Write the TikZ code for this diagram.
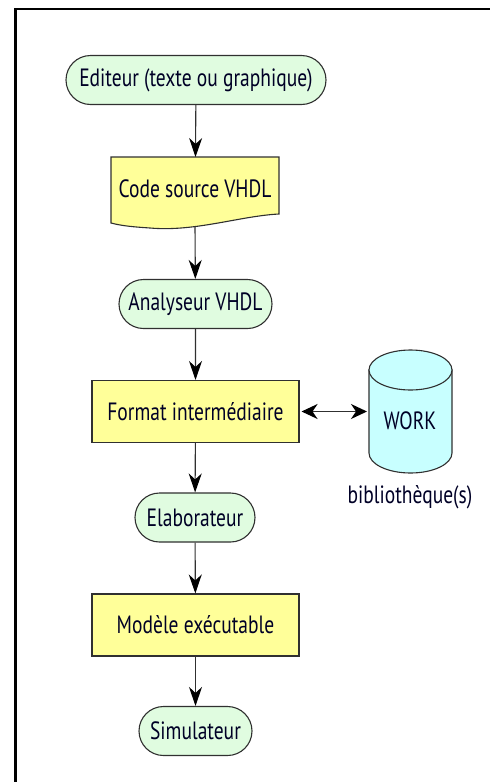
\documentclass[tikz,border=0pt]{standalone}
\usepackage{fontspec}
\setmainfont[FakeStretch=0.78]{PT Sans}
\usetikzlibrary{arrows.meta}
\usetikzlibrary{shapes.misc}

\definecolor{startgreen}{HTML}{E0FCE0}
\definecolor{boxyellow}{HTML}{FFFF99}
\definecolor{workcyan}{HTML}{C8FFFF}
\definecolor{inkdark}{HTML}{303030}

\begin{document}
\begin{tikzpicture}[x=1pt,y=-1pt]
    \tikzset{line/.style={line width=1.1pt,draw=inkdark}};
    \tikzset{flow/.style={line,-{Stealth[length=19pt,width=13pt,inset=6pt,black]}}};
    \tikzset{both/.style={line,line width=1.4pt,{Stealth[length=16pt,width=15pt,inset=5pt,black]}-{Stealth[length=16pt,width=15pt,inset=5pt,black]}}};
    \tikzset{lbl/.style={font=\fontsize{25}{28}\selectfont,text=black!85!blue,inner sep=0pt}};
    \tikzset{tool/.style={line,lbl,rounded rectangle,fill=startgreen,minimum height=49pt}};
    \tikzset{data/.style={line,lbl,rectangle,fill=boxyellow,minimum height=62pt,minimum width=207pt}};

    \useasboundingbox (0,0) rectangle (490,782);
    \draw[line width=2.6pt,draw=black] (15.5,782) -- (15.5,9) -- (490,9);

    % the tools
    \node[tool,minimum width=260pt] (editeur) at (196,80) {Editeur (texte ou graphique)};
    \node[tool,minimum width=153pt] (analyseur) at (195.5,304) {Analyseur VHDL};
    \node[tool,minimum width=120pt] (elaborateur) at (195,517.5) {Elaborateur};
    \node[tool,minimum width=113pt] (simulateur) at (195.5,731) {Simulateur};

    % the files
    \draw[line,fill=boxyellow] (111,157) -- (279,157) -- (279,214)
        .. controls (240,216) and (195,232) .. (150,228)
        .. controls (135,227) and (122,226) .. (111,223) -- cycle;
    \node[lbl] (code) at (195,189) {Code source VHDL};
    \coordinate (codeN) at (195.5,157);
    \coordinate (codeS) at (195,226);

    \node[data] (format) at (195.5,411.5) {Format intermédiaire};
    \node[data] (modele) at (195.5,625) {Modèle exécutable};

    % the library
    \draw[line,fill=workcyan] (369,370) -- (369,453) arc[start angle=180,end angle=0,x radius=41.5,y radius=20]
        -- (452,370) -- cycle;
    \draw[line,fill=workcyan] (410.5,370) ellipse[x radius=41.5,y radius=20];
    \node[lbl] (work) at (410,421) {WORK};
    \node[lbl] (biblio) at (410,497) {bibliothèque(s)};
    \coordinate (workW) at (367,411.5);

    \draw[flow] (editeur) -- (codeN);
    \draw[flow] (codeS) -- (analyseur);
    \draw[flow] (analyseur) -- (format);
    \draw[flow] (format) -- (elaborateur);
    \draw[flow] (elaborateur) -- (modele);
    \draw[flow] (modele) -- (simulateur);
    \draw[both,shorten <=2pt] (format) -- (workW);
\end{tikzpicture}
\end{document}
